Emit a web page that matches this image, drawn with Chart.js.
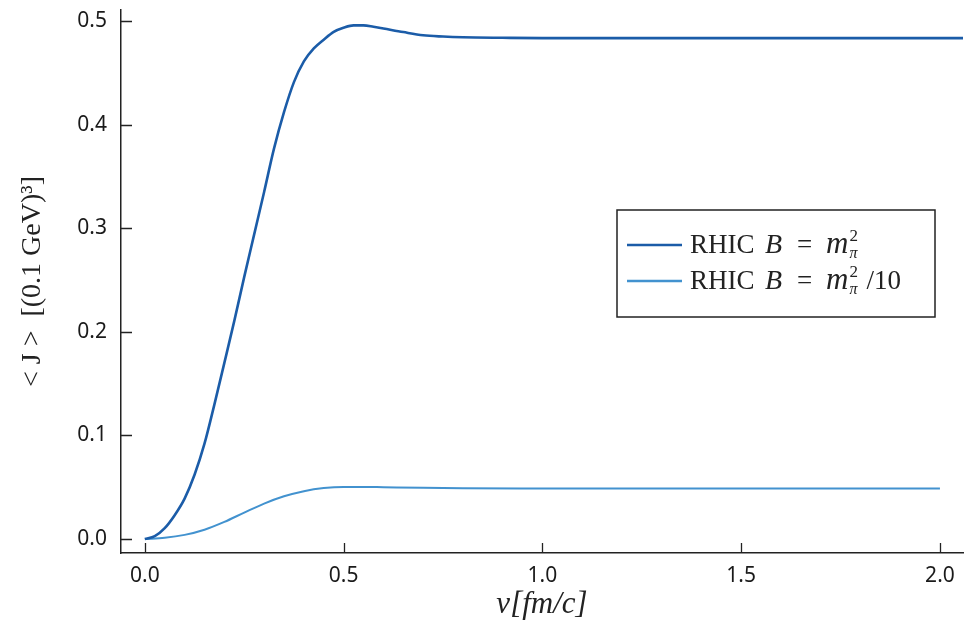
<!DOCTYPE html>
<html>
<head>
<meta charset="utf-8">
<script src="https://cdn.jsdelivr.net/npm/chart.js@4/dist/chart.umd.min.js"></script>
<style>
  html, body { margin: 0; padding: 0; background: #fff; }
  #wrap { width: 973px; height: 623px; }
</style>
</head>
<body>
<div id="wrap"><canvas id="chart" width="973" height="623"></canvas></div>
<script>
// values
const vStrong = [0, 0.025, 0.05, 0.075, 0.1, 0.125, 0.15, 0.175, 0.2, 0.225, 0.25, 0.275, 0.3, 0.325, 0.35, 0.375, 0.4, 0.425, 0.45, 0.475, 0.5, 0.525, 0.55, 0.575, 0.6, 0.65, 0.7, 0.75, 0.8, 0.9, 1.0, 1.5, 2.0, 2.06];
const jStrong = [0, 0.0028, 0.0105, 0.023, 0.039, 0.062, 0.092, 0.130, 0.170, 0.2105, 0.253, 0.294, 0.335, 0.377, 0.412, 0.441, 0.461, 0.4735, 0.482, 0.4895, 0.4935, 0.4958, 0.4958, 0.4945, 0.4928, 0.4893, 0.4862, 0.485, 0.4843, 0.4838, 0.4835, 0.4835, 0.4835, 0.4835];
const vWeak = [0, 0.05, 0.1, 0.15, 0.2, 0.25, 0.3, 0.35, 0.4, 0.45, 0.5, 0.55, 0.6, 0.7, 0.8, 1.0, 1.5, 2.0];
const jWeak = [0, 0.0012, 0.004, 0.009, 0.0165, 0.0255, 0.0342, 0.0412, 0.0462, 0.0492, 0.0503, 0.0503, 0.05, 0.0494, 0.049, 0.0488, 0.0487, 0.0487];
const xTicks = [0, 0.5, 1.0, 1.5, 2.0];
const yTicks = [0, 0.1, 0.2, 0.3, 0.4, 0.5];
const seriesColors = ['#1b5ca8', '#4292cf'];

const toPts = (xs, ys) => xs.map((x, i) => ({ x: x, y: ys[i] }));
const tickFont = { family: 'Noto Sans', size: 21 };
const serif = '"Liberation Serif"';

// ticks that point into the plot, like the reference
const innerTicks = {
  id: 'innerTicks',
  afterDatasetsDraw(chart) {
    const { ctx, chartArea, scales } = chart;
    ctx.save();
    ctx.strokeStyle = '#222'; ctx.lineWidth = 1.3;
    ctx.beginPath();
    xTicks.forEach(v => { const px = Math.round(scales.x.getPixelForValue(v)) + 0.5; ctx.moveTo(px, chartArea.bottom); ctx.lineTo(px, chartArea.bottom - 10); });
    yTicks.forEach(v => { const py = Math.round(scales.y.getPixelForValue(v)) + 0.5; ctx.moveTo(chartArea.left, py); ctx.lineTo(chartArea.left + 11, py); });
    ctx.stroke();
    ctx.restore();
  }
};

// legend box with the math-style labels
const mathLegend = {
  id: 'mathLegend',
  afterDraw(chart) {
    const ctx = chart.ctx;
    ctx.save();
    ctx.fillStyle = '#fff'; ctx.fillRect(617, 210, 318, 107);
    ctx.strokeStyle = '#222'; ctx.lineWidth = 1.5; ctx.strokeRect(617, 210, 318, 107);
    const rows = [{ y: 245, base: 253, tail: '' }, { y: 281, base: 289, tail: '/10' }];
    rows.forEach((r, i) => {
      ctx.strokeStyle = seriesColors[i]; ctx.lineWidth = 2.5;
      ctx.beginPath(); ctx.moveTo(627, r.y); ctx.lineTo(682, r.y); ctx.stroke();
      ctx.fillStyle = '#222'; ctx.textBaseline = 'alphabetic'; ctx.textAlign = 'left';
      ctx.font = '27px ' + serif; ctx.fillText('RHIC', 690, r.base);
      ctx.font = 'italic 28px ' + serif; ctx.fillText('B', 765, r.base);
      ctx.font = '27px ' + serif; ctx.fillText('=', 797, r.base);
      ctx.font = 'italic 31px ' + serif;
      ctx.fillText('m', 826, r.base);
      const mx = 826 + ctx.measureText('m').width + 1;
      ctx.font = '17px ' + serif; ctx.fillText('2', mx, r.base - 12);
      ctx.font = 'italic 16px ' + serif; ctx.fillText('π', mx, r.base + 5);
      if (r.tail) { ctx.font = '27px ' + serif; ctx.fillText(r.tail, mx + 17, r.base); }
    });
    ctx.restore();
  }
};

new Chart(document.getElementById('chart'), {
  type: 'line',
  data: {
    datasets: [
      { label: 'RHIC B = m²π', data: toPts(vStrong, jStrong), borderColor: seriesColors[0], borderWidth: 2.6, pointRadius: 0, cubicInterpolationMode: 'monotone', fill: false },
      { label: 'RHIC B = m²π/10', data: toPts(vWeak, jWeak), borderColor: seriesColors[1], borderWidth: 2, pointRadius: 0, cubicInterpolationMode: 'monotone', fill: false }
    ]
  },
  options: {
    responsive: false,
    animation: false,
    layout: { padding: { top: 10, right: 10, left: 0, bottom: 0 } },
    plugins: { legend: { display: false }, tooltip: { enabled: false } },
    scales: {
      x: {
        type: 'linear', min: -0.06, max: 2.058,
        afterBuildTicks: s => { s.ticks = xTicks.map(v => ({ value: v })); },
        afterFit: s => { s.height = 70; s.paddingLeft = 0; s.paddingRight = 0; },
        grid: { drawOnChartArea: false, drawTicks: false },
        border: { color: '#222', width: 1.5 },
        ticks: { font: tickFont, color: '#1a1a1a', padding: 10, maxRotation: 0, callback: v => v.toFixed(1) },
        title: { display: true, text: 'v[fm/c]', font: { family: 'Liberation Serif', size: 31, style: 'italic', lineHeight: 1.2 }, color: '#222', padding: { top: 0, bottom: 0 } }
      },
      y: {
        min: -0.0135, max: 0.5106,
        afterBuildTicks: s => { s.ticks = yTicks.map(v => ({ value: v })); },
        afterFit: s => { s.width = 121; s.paddingTop = 0; s.paddingBottom = 0; },
        grid: { drawOnChartArea: false, drawTicks: false },
        border: { color: '#222', width: 1.5 },
        ticks: { font: tickFont, color: '#1a1a1a', padding: 14, callback: v => v.toFixed(1) },
        title: { display: true, text: '< J >  [(0.1 GeV)³]', font: { family: 'Liberation Serif', size: 28, lineHeight: 1.2 }, color: '#222', padding: { top: 16, bottom: 0 } }
      }
    }
  },
  plugins: [innerTicks, mathLegend]
});
</script>
</body>
</html>
